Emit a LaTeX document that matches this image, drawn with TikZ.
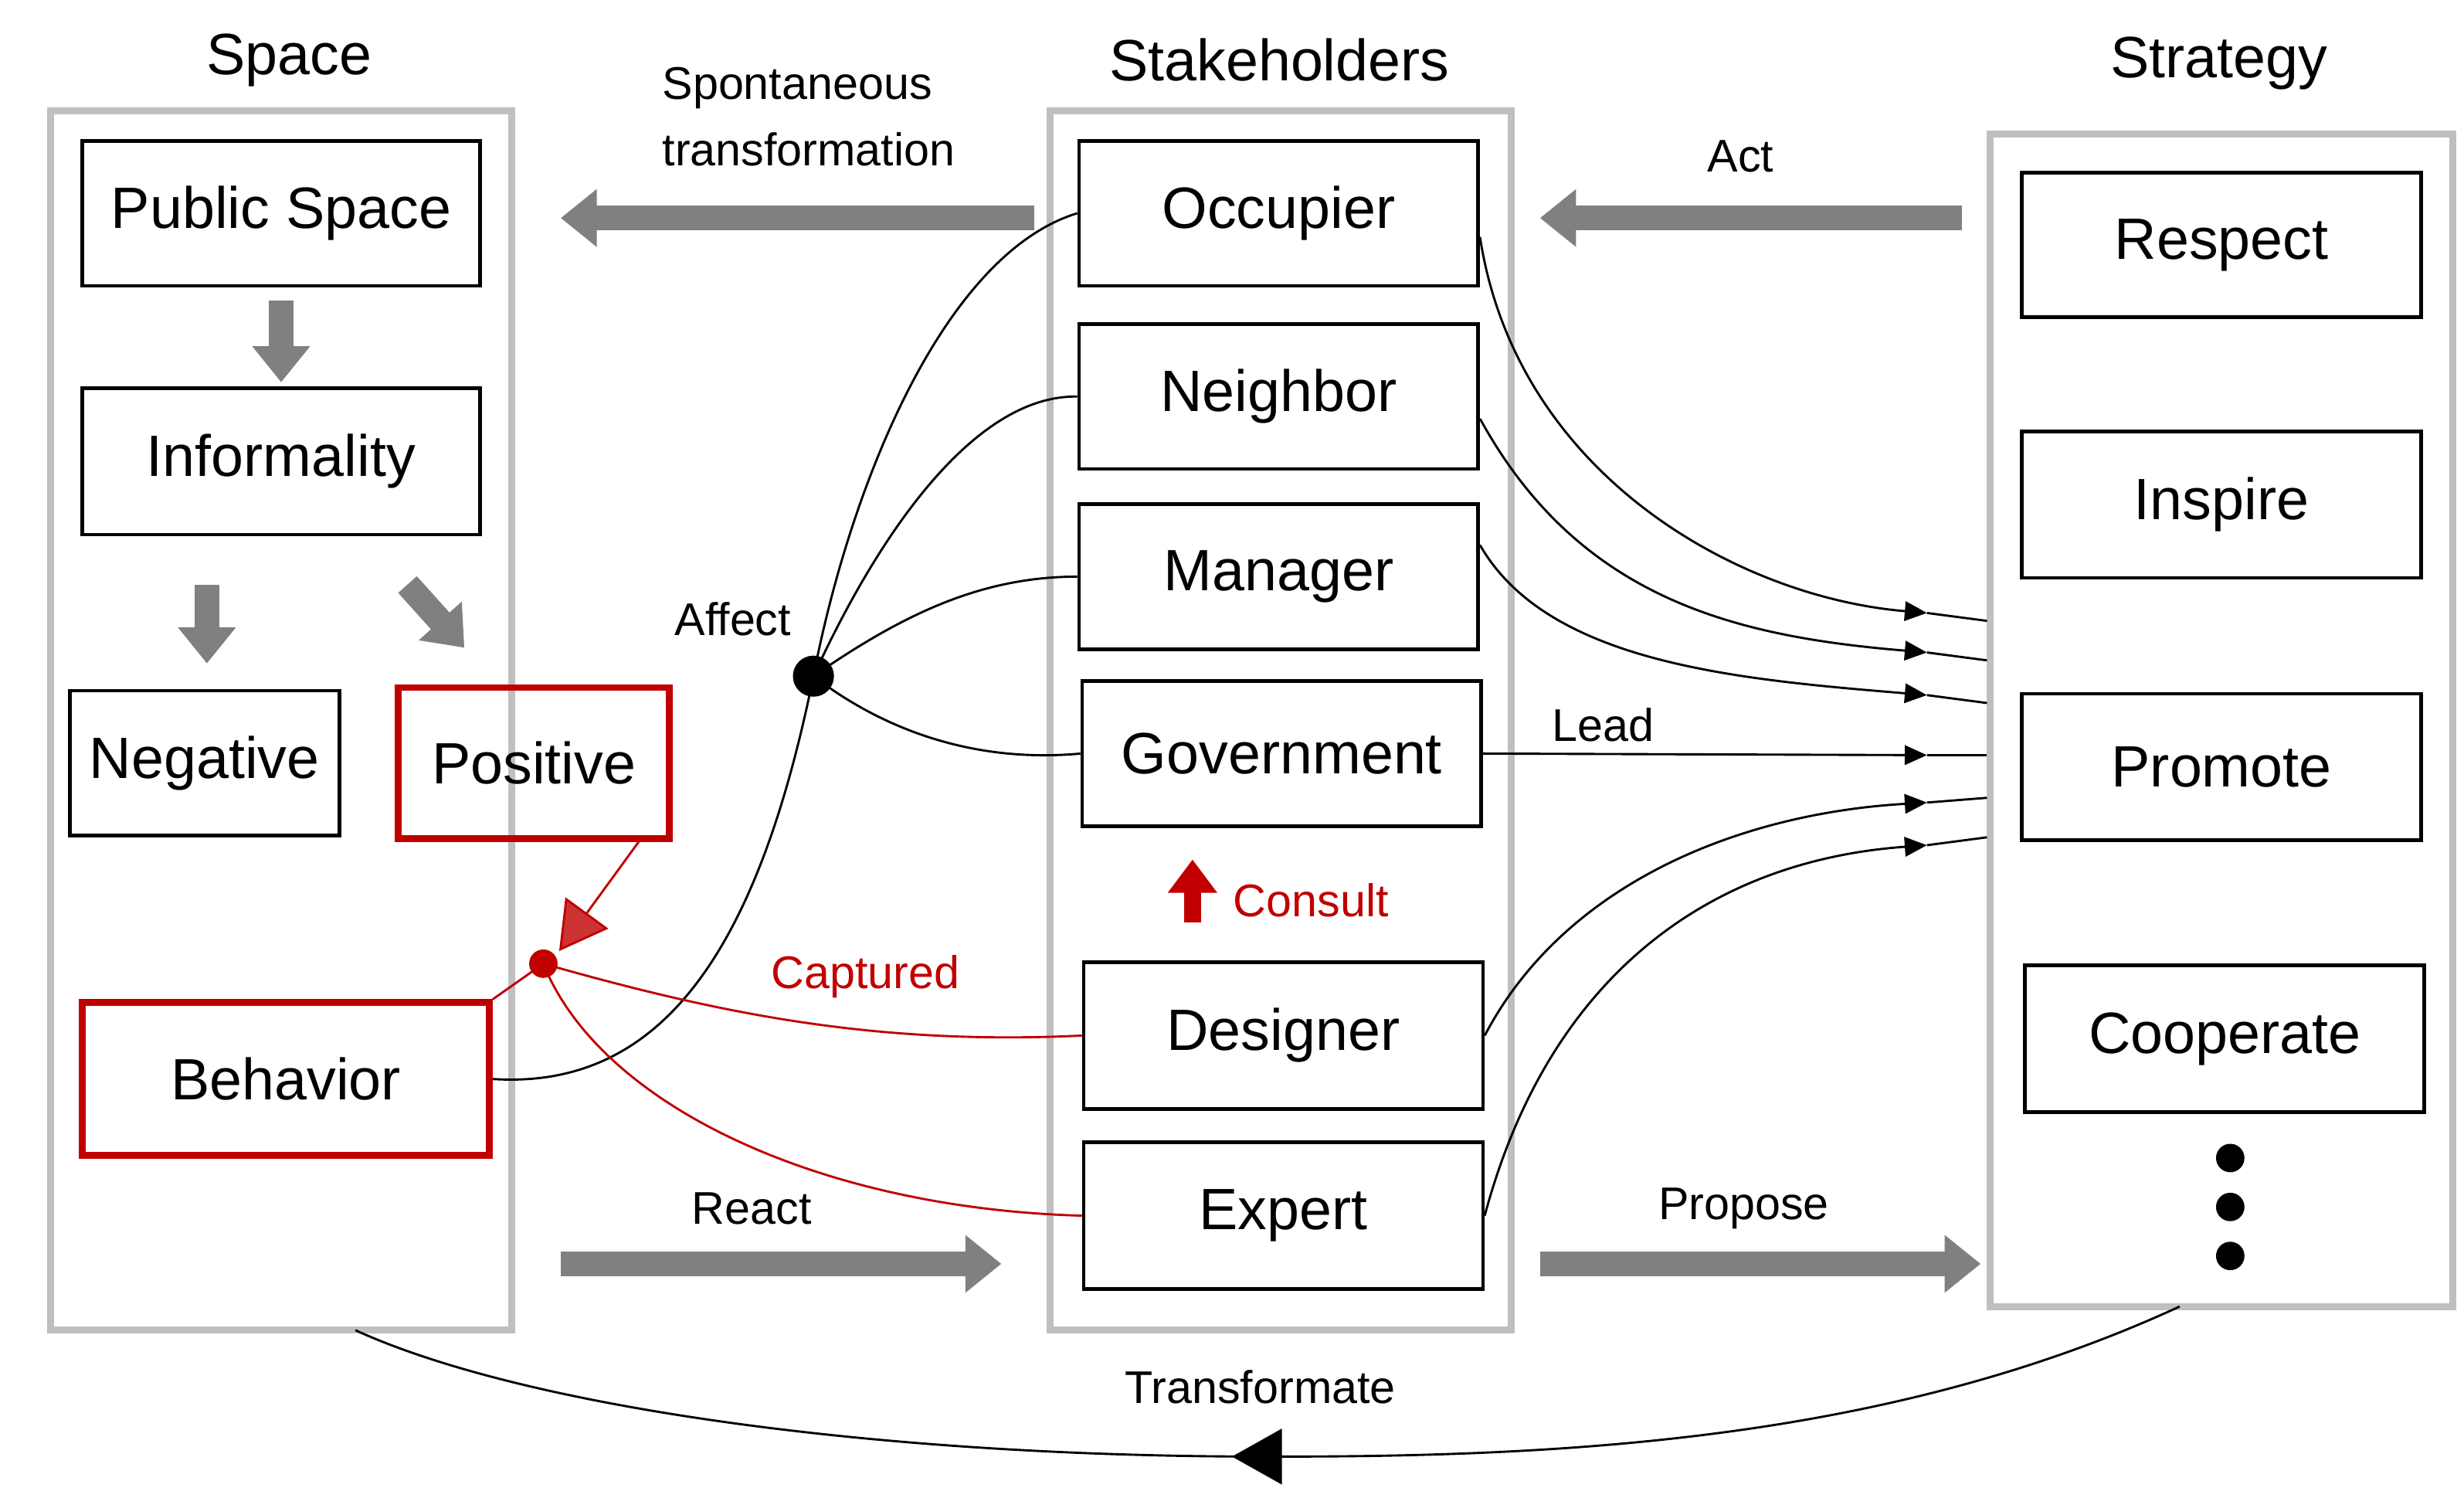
\documentclass[tikz,border=0pt]{standalone}
\usepackage{fontspec}
\setmainfont{Liberation Sans}
\usetikzlibrary{arrows.meta}
\definecolor{pg}{HTML}{BFBFBF}
\definecolor{ag}{HTML}{808080}
\definecolor{rd}{HTML}{C00000}
\begin{document}
\begin{tikzpicture}[x=0.02cm,y=-0.02cm,
 panel/.style={draw=pg,line width=2.5pt},
 box/.style={draw=black,line width=1.3pt,font=\fontsize{21}{25}\selectfont},
 rbox/.style={draw=rd,line width=2.4pt,font=\fontsize{21}{25}\selectfont},
 ttl/.style={font=\fontsize{21}{25}\selectfont},
 lbl/.style={font=\fontsize{16.5}{22}\selectfont},
 garrow/.style={draw=ag,line width=9pt,-{Triangle[length=13pt,width=20pt]}},
 conn/.style={draw=black,line width=0.8pt},
 tip/.style={-{Triangle[length=8pt,width=7pt]}}]
\useasboundingbox (0,0) rectangle (1560,948);
% panels
\draw[panel] (32,70) rectangle (324,842);
\draw[panel] (665,70) rectangle (957,842);
\draw[panel] (1260,85) rectangle (1553,827);
\node[ttl] (tsp) at (183,38) {Space};
\node[ttl] (tst) at (810,38) {Stakeholders};
\node[ttl] (tsr) at (1405,40) {Strategy};
% boxes
\newcommand{\bx}[6]{\node[#1,minimum width=#4*0.02cm-1.3pt,minimum height=#5*0.02cm-1.3pt,inner sep=0pt] (#2) at (#3) {#6};}
\bx{box}{ps}{178,135}{254}{94}{Public Space}
\bx{box}{inf}{178,292}{254}{95}{Informality}
\bx{box}{neg}{129.5,483}{173}{94}{Negative}
\bx{rbox}{pos}{338,483}{174}{98}{Positive}
\bx{rbox}{beh}{181,683}{260}{99}{Behavior}
\bx{box}{occ}{809.5,135}{255}{94}{Occupier}
\bx{box}{nei}{809.5,251}{255}{94}{Neighbor}
\bx{box}{man}{809.5,365}{255}{94}{Manager}
\bx{box}{gov}{811.5,477}{255}{94}{Government}
\bx{box}{des}{812.5,655.5}{255}{95}{Designer}
\bx{box}{exp}{812.5,769.5}{255}{95}{Expert}
\bx{box}{res}{1406.5,155}{255}{94}{Respect}
\bx{box}{ins}{1406.5,319.5}{255}{95}{Inspire}
\bx{box}{pro}{1406.5,485.5}{255}{95}{Promote}
\bx{box}{coo}{1408.5,657.5}{255}{95}{Cooperate}
\fill (1412,733) circle[radius=9];
\fill (1412,764) circle[radius=9];
\fill (1412,795) circle[radius=9];
% gray arrows
\coordinate (a1s) at (655,138); \coordinate (a1e) at (355,138);
\coordinate (a2s) at (1242,138); \coordinate (a2e) at (975,138);
\coordinate (a3s) at (355,800); \coordinate (a3e) at (634,800);
\coordinate (a4s) at (975,800); \coordinate (a4e) at (1254,800);
\draw[garrow] (a1s) -- (a1e);
\draw[garrow] (a2s) -- (a2e);
\draw[garrow] (a3s) -- (a3e);
\draw[garrow] (a4s) -- (a4e);
\draw[garrow] (178,190) -- (178,242);
\draw[garrow] (131,370) -- (131,420);
\draw[garrow] (258,370) -- (294,410);
% labels
\node[lbl,align=left] (lsp) at (512,74) {Spontaneous\\[2pt]transformation};
\node[lbl] (lact) at (1102,99) {Act};
\node[lbl] (laff) at (464,392) {Affect};
\node[lbl] (llead) at (1015,459) {Lead};
\node[lbl,text=rd] (lcap) at (548,618) {Captured};
\node[lbl] (lre) at (476,765) {React};
\node[lbl] (lpro) at (1104,765) {Propose};
\node[lbl] (ltr) at (798,878) {Transformate};
\node[lbl,text=rd] (lcon) at (830,570) {Consult};
\draw[rd,line width=6pt,-{Triangle[length=12pt,width=17pt]}] (755,584) -- (755,544);
% affect hub
\fill (515,428) circle[radius=13] coordinate (hub);
\draw[conn] (hub) .. controls (540,300) and (600,160) .. (occ.west);
\draw[conn] (hub) .. controls (560,330) and (620,250) .. (nei.west);
\draw[conn] (hub) .. controls (570,390) and (620,365) .. (man.west);
\draw[conn] (hub) .. controls (570,470) and (630,482) .. (gov.west);
\draw[conn] (hub) .. controls (480,600) and (420,690) .. (beh.east);
% red hub
\fill[rd] (344,610) circle[radius=9] coordinate (rhub);
\draw[rd,line width=0.8pt] (rhub) -- (beh.north east);
\draw[rd,line width=0.8pt] (rhub) .. controls (450,640) and (550,662) .. (des.west);
\draw[rd,line width=0.8pt] (rhub) .. controls (380,700) and (520,765) .. (exp.west);
\draw[rd,line width=0.8pt,-{Triangle[length=17pt,width=19pt,fill=rd!80!white]}] (405,532) -- (354,602);
% right connectors
\coordinate (t1) at (1220,388); \coordinate (e1) at (1258,393);
\coordinate (t2) at (1220,413); \coordinate (e2) at (1258,418);
\coordinate (t3) at (1220,440); \coordinate (e3) at (1258,445);
\coordinate (t4) at (1220,478); \coordinate (e4) at (1258,478);
\coordinate (t5) at (1220,508); \coordinate (e5) at (1258,505);
\coordinate (t6) at (1220,535); \coordinate (e6) at (1258,530);
\draw[conn,tip] (937,150) .. controls (960,300) and (1100,378) .. (t1); \draw[conn] (t1) -- (e1);
\draw[conn,tip] (937,265) .. controls (1000,380) and (1100,403) .. (t2); \draw[conn] (t2) -- (e2);
\draw[conn,tip] (937,345) .. controls (980,420) and (1100,430) .. (t3); \draw[conn] (t3) -- (e3);
\draw[conn,tip] (gov.east) -- (t4); \draw[conn] (t4) -- (e4);
\draw[conn,tip] (des.east) .. controls (990,560) and (1100,515) .. (t5); \draw[conn] (t5) -- (e5);
\draw[conn,tip] (exp.east) .. controls (980,620) and (1080,545) .. (t6); \draw[conn] (t6) -- (e6);
% bottom arrow
\coordinate (bs) at (1380,827); \coordinate (bm) at (800,922); \coordinate (be) at (225,842);
\draw[conn,-{Triangle[length=18pt,width=20pt]}] (bs) .. controls (1200,910) and (1000,922) .. (780,922);
\draw[conn] (bm) .. controls (550,922) and (330,890) .. (be);
\end{tikzpicture}
\end{document}
